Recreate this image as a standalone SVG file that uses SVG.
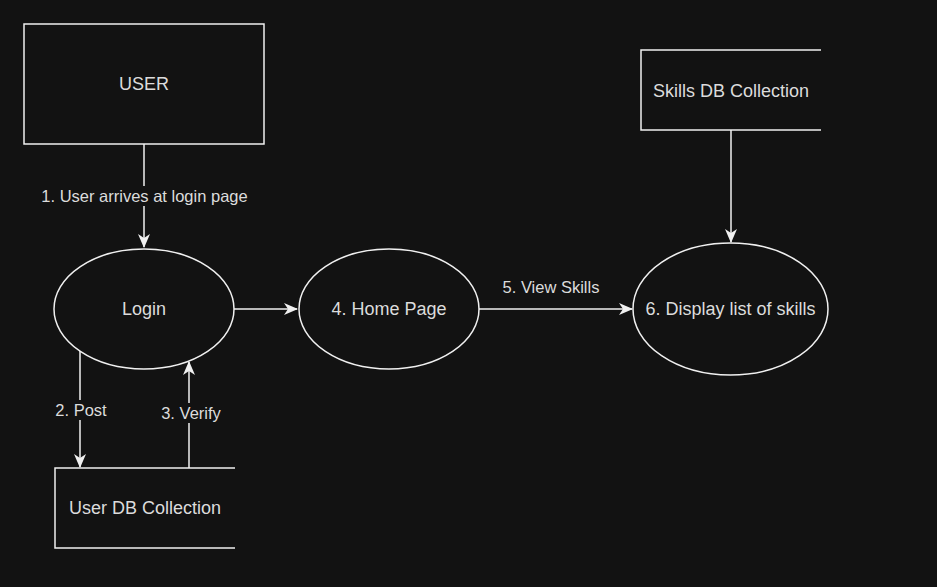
<svg xmlns="http://www.w3.org/2000/svg" width="937" height="587" viewBox="0 0 937 587">
<style>
.shape{fill:#121212;stroke:#f0f0f0;stroke-width:1.5}
.open{fill:none;stroke:#f0f0f0;stroke-width:1.5}
.edge{fill:none;stroke:#f0f0f0;stroke-width:1.5;marker-end:url(#arrow)}
.t{font-family:"Liberation Sans",Arial,sans-serif;font-size:18px;fill:#dcdcdc}
.lbl{font-family:"Liberation Sans",Arial,sans-serif;font-size:16.5px;fill:#dcdcdc}
.bg{fill:#121212}
</style>
<defs>
<marker id="arrow" viewBox="0 0 14 12" refX="13" refY="6" markerWidth="14" markerHeight="12" markerUnits="userSpaceOnUse" orient="auto">
<path d="M0,0 L14,6 L0,12 L4,6 Z" fill="#f0f0f0"/>
</marker>
</defs>
<rect width="937" height="587" fill="#121212"/>
<g id="connectors">
<path class="edge" d="M144,144 L144,247"/>
<path class="edge" d="M234,309 L297,309"/>
<path class="edge" d="M479,309 L632,309"/>
<path class="edge" d="M731,130 L731,242"/>
<path class="edge" d="M80,351 L80,467"/>
<path class="edge" d="M189,468 L189,362"/>
<rect class="bg" x="40" y="186" width="209" height="20"/>
<text class="lbl" x="144.5" y="202" text-anchor="middle">1. User arrives at login page</text>
<text class="lbl" x="551" y="293" text-anchor="middle">5. View Skills</text>
<rect class="bg" x="54" y="400" width="54" height="20"/>
<text class="lbl" x="81" y="416" text-anchor="middle">2. Post</text>
<rect class="bg" x="159" y="403" width="63" height="20"/>
<text class="lbl" x="191" y="419" text-anchor="middle">3. Verify</text>
</g>
<g id="user">
<rect class="shape" x="24" y="24" width="240" height="120"/>
<text class="t" x="144" y="90" text-anchor="middle">USER</text>
</g>
<g id="login">
<ellipse class="shape" cx="144" cy="309" rx="90" ry="60"/>
<text class="t" x="144" y="315" text-anchor="middle">Login</text>
</g>
<g id="home">
<ellipse class="shape" cx="389" cy="309" rx="90" ry="60"/>
<text class="t" x="389" y="315" text-anchor="middle">4. Home Page</text>
</g>
<g id="display">
<ellipse class="shape" cx="730.5" cy="309" rx="97.5" ry="66"/>
<text class="t" x="730.5" y="315" text-anchor="middle">6. Display list of skills</text>
</g>
<g id="skillsdb">
<path class="open" d="M821,50 L641,50 L641,130 L821,130"/>
<text class="t" x="653" y="97">Skills DB Collection</text>
</g>
<g id="userdb">
<path class="open" d="M235,468 L55,468 L55,548 L235,548"/>
<text class="t" x="69" y="514">User DB Collection</text>
</g>
</svg>
